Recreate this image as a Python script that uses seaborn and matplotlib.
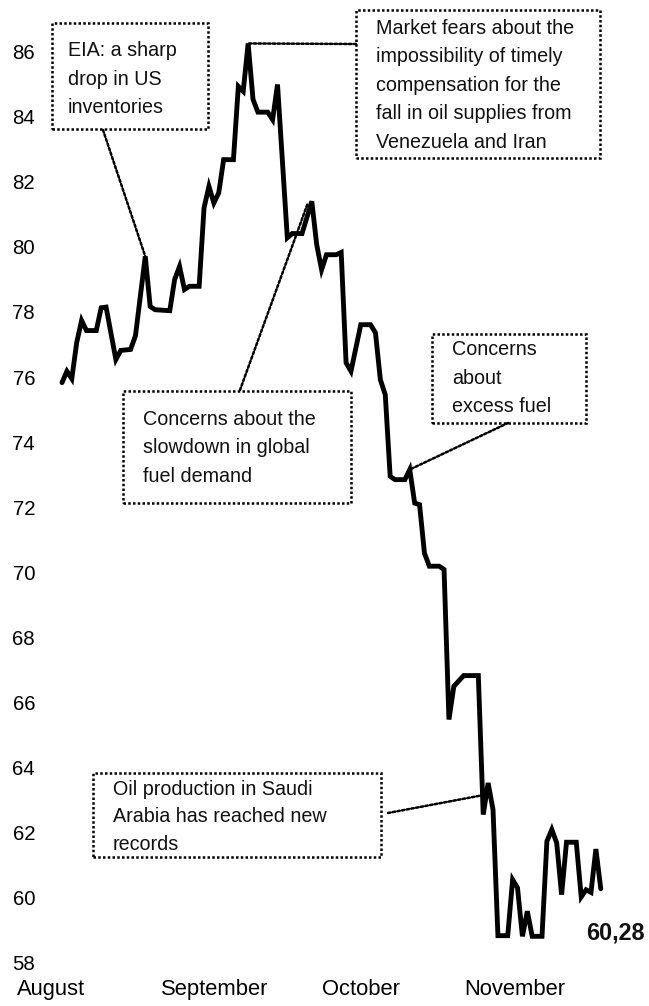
import matplotlib
matplotlib.use("Agg")
import matplotlib.pyplot as plt
import seaborn as sns
import pandas as pd
from matplotlib.patches import Rectangle

# ---- data (Brent, USD/bbl; day 0 = first day shown) ----
day = [0, 1, 2, 3, 4, 5, 7, 8, 9, 11, 12, 14, 15, 17, 18, 19, 21, 22, 23, 24,
       25, 26, 28, 29, 30, 31, 32, 33, 35, 36, 37, 38, 39, 40, 42, 43, 44, 46,
       47, 49, 51, 52, 53, 54, 56, 57, 58, 59, 61, 63, 64, 65, 66, 67, 68, 70,
       71, 72, 73, 74, 75, 77, 78, 79, 80, 82, 85, 86, 87, 88, 89, 91, 92, 93,
       94, 95, 96, 98, 99, 100, 101, 102, 103, 105, 106, 107, 108, 109, 110]
price = [75.83, 76.18, 75.95, 77.06, 77.74, 77.43, 77.43, 78.13, 78.15, 76.54,
         76.82, 76.85, 77.27, 79.71, 78.17, 78.07, 78.05, 78.04, 79.00, 79.40,
         78.69, 78.79, 78.79, 81.20, 81.86, 81.35, 81.66, 82.68, 82.68, 84.93,
         84.78, 86.25, 84.53, 84.14, 84.14, 83.91, 84.99, 80.28, 80.41, 80.41,
         81.40, 80.07, 79.30, 79.76, 79.76, 79.83, 76.44, 76.18, 77.61, 77.61,
         77.36, 75.92, 75.46, 72.95, 72.85, 72.85, 73.16, 72.13, 72.08, 70.59,
         70.19, 70.19, 70.09, 65.48, 66.50, 66.83, 66.83, 62.56, 63.53, 62.71,
         58.84, 58.84, 60.56, 60.31, 58.82, 59.59, 58.82, 58.82, 61.74, 62.10,
         61.69, 60.10, 61.71, 61.71, 60.03, 60.25, 60.17, 61.50, 60.28]

months = ["August", "September", "October", "November"]
month_pos = [-2.3, 31.2, 61, 92.5]
y_ticks = list(range(58, 88, 2))

notes = [
    "EIA: a sharp\ndrop in US\ninventories",
    "Market fears about the\nimpossibility of timely\ncompensation for the\nfall in oil supplies from\nVenezuela and Iran",
    "Concerns about the\nslowdown in global\nfuel demand",
    "Concerns\nabout\nexcess fuel",
    "Oil production in Saudi\nArabia has reached new\nrecords",
]
# point on the curve each note refers to (day, price)
note_targets = [(17, 79.71), (38, 86.25), (50.2, 81.35), (71, 73.16), (85.7, 63.15)]

# ---- styling / layout ----
sns.set_theme(style="white")
plt.rcParams["font.family"] = ["Liberation Sans", "DejaVu Sans"]

W, H = 649, 1006
fig = plt.figure(figsize=(W / 100, H / 100), dpi=100)
ax = fig.add_axes([40 / W, 1 - 963 / H, 600 / W, 963 / H])

df = pd.DataFrame({"day": day, "price": price})
sns.lineplot(data=df, x="day", y="price", ax=ax, color="black", lw=3.5,
             solid_joinstyle="miter", legend=False)

ppd, ppu = 4.898, 32.55
ax.set_xlim((40 - 62) / ppd, (640 - 62) / ppd)
ax.set_ylim(58, 58 + 963 / ppu)
ax.set_xlabel("")
ax.set_ylabel("")
ax.set_yticks(y_ticks)
ax.set_yticklabels([str(v) for v in y_ticks])
ax.set_xticks(month_pos)
ax.set_xticklabels(months)
ax.tick_params(axis="y", length=0, pad=3.6, labelsize=14.7, colors="black")
ax.tick_params(axis="x", length=0, pad=11.5, labelsize=15.8, colors="black")
sns.despine(ax=ax, left=True, bottom=True, top=True, right=True)
ax.grid(False)
ax.patch.set_alpha(0)

DOT = (0, (1, 0.9))


def fx(x):
    return x / W


def fy(y):
    return 1 - y / H


# boxes: (left, top, right, bottom) in pixels; text start (x, top); leader start; line spacing
boxes = [
    ((52, 23, 208, 129), (68, 41), (103, 130), 1.64),
    ((356, 10, 600, 158), (376, 19), (356, 44), 1.63),
    ((123, 391, 351, 503), (143, 410), (240, 390), 1.62),
    ((432, 334, 586, 423), (452, 340), (508, 423), 1.64),
    ((93, 773, 381, 857), (113, 780), (388, 813), 1.56),
]

for (rect, tpos, lstart, lsp), txt, tgt in zip(boxes, notes, note_targets):
    l, t, r, b = rect
    fig.add_artist(Rectangle((fx(l), fy(b)), (r - l) / W, (b - t) / H,
                             transform=fig.transFigure, fill=False,
                             ec="black", lw=1.8, ls=DOT))
    fig.text(fx(tpos[0]), fy(tpos[1]), txt, ha="left", va="top",
             fontsize=14.2, color="#111111", linespacing=lsp)
    ax.annotate("", xy=tgt, xycoords="data",
                xytext=(fx(lstart[0]), fy(lstart[1])),
                textcoords="figure fraction",
                arrowprops=dict(arrowstyle="-", lw=1.8, ls=DOT, color="black",
                                shrinkA=0, shrinkB=0))

last = f"{price[-1]:.2f}".replace(".", ",")
ax.annotate(last, xy=(day[-1], price[-1]), xycoords="data",
            xytext=(15, -44), textcoords="offset pixels",
            ha="center", va="center", fontsize=16.8, fontweight="bold",
            color="#111111")

fig.savefig("out.png", dpi=100)
